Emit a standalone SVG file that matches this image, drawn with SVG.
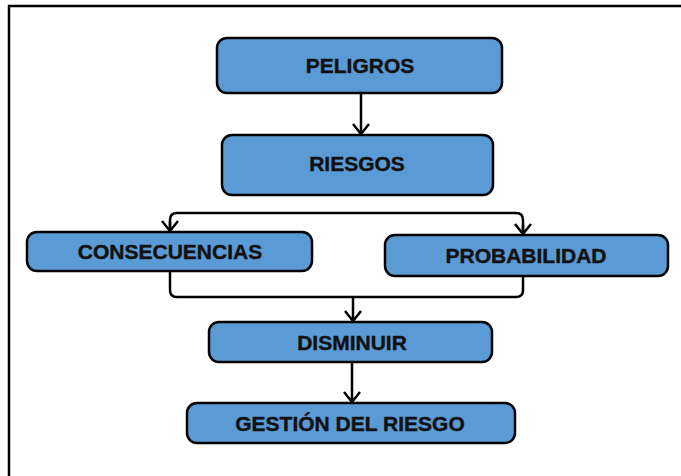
<svg xmlns="http://www.w3.org/2000/svg" width="681" height="476" viewBox="0 0 681 476">
<defs>
<style>
.box{fill:#5B9BD5;stroke:#000;stroke-width:2.5}
.lbl{font-family:"Liberation Sans",Arial,sans-serif;font-weight:bold;font-size:21px;fill:#111;stroke:#111;stroke-width:0.4;text-anchor:middle}
.con{fill:none;stroke:#000;stroke-width:2.5}
</style>
<marker id="arr" viewBox="0 0 20 20" refX="18" refY="10" markerWidth="20" markerHeight="20" markerUnits="userSpaceOnUse" orient="auto">
<polyline points="8,2 18,10 8,18" fill="none" stroke="#000" stroke-width="2.5"/>
</marker>
</defs>
<rect width="681" height="476" fill="#fff"/>
<path d="M9,476 V6 H681" fill="none" stroke="#000" stroke-width="2.5"/>
<g id="connectors">
<path class="con" d="M361,93 V134" marker-end="url(#arr)"/>
<path class="con" d="M170,231 V220 Q170,213 177,213 H516 Q523,213 523,220 V234"/>
<path class="con" d="M170,222 V231" marker-end="url(#arr)"/>
<path class="con" d="M523,225 V234" marker-end="url(#arr)"/>
<path class="con" d="M170,271 V290 Q170,297 177,297 H516 Q523,297 523,290 V276"/>
<path class="con" d="M353,297 V321" marker-end="url(#arr)"/>
<path class="con" d="M352,362 V402" marker-end="url(#arr)"/>
</g>
<g id="peligros"><rect class="box" x="217" y="38" width="285" height="55" rx="10"/><text class="lbl" x="360" y="73">PELIGROS</text></g>
<g id="riesgos"><rect class="box" x="222" y="135" width="271" height="60" rx="10"/><text class="lbl" x="357" y="171">RIESGOS</text></g>
<g id="consecuencias"><rect class="box" x="27" y="232" width="285" height="39" rx="10"/><text class="lbl" x="170" y="259">CONSECUENCIAS</text></g>
<g id="probabilidad"><rect class="box" x="385" y="235" width="283" height="41" rx="10"/><text class="lbl" x="526" y="263">PROBABILIDAD</text></g>
<g id="disminuir"><rect class="box" x="209" y="322" width="283" height="40" rx="10"/><text class="lbl" x="352" y="350">DISMINUIR</text></g>
<g id="gestion"><rect class="box" x="187" y="403" width="328" height="40" rx="10"/><text class="lbl" x="350" y="431">GESTIÓN DEL RIESGO</text></g>
</svg>
